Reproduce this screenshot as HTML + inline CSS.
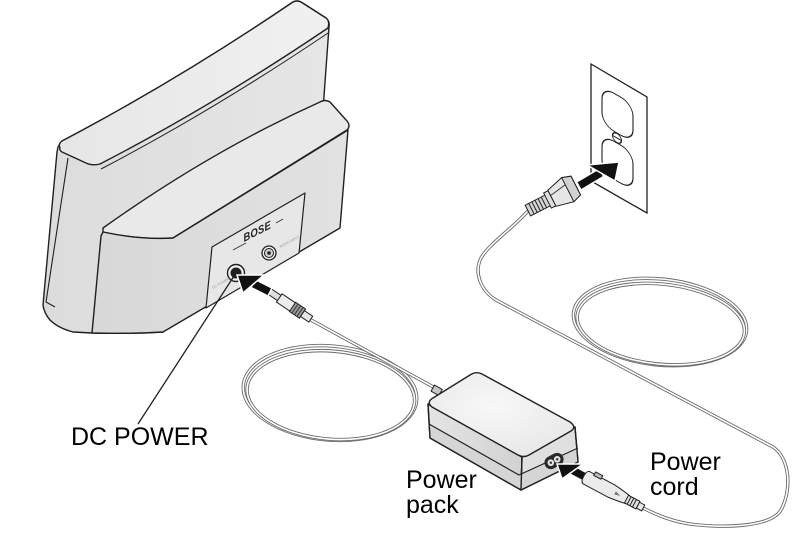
<!DOCTYPE html>
<html><head><meta charset="utf-8"><style>
html,body{margin:0;padding:0;background:#fff;width:812px;height:552px;overflow:hidden;}
svg{display:block;}
text{font-family:"Liberation Sans",Arial,sans-serif;}
</style></head><body>
<svg width="812" height="552" viewBox="0 0 812 552" xmlns="http://www.w3.org/2000/svg">
<defs>
<linearGradient id="lid" x1="0" y1="0" x2="1" y2="0"><stop offset="0" stop-color="#e6e6e6"/><stop offset="1" stop-color="#f1f1f1"/></linearGradient>
<linearGradient id="back" x1="0" y1="0" x2="1" y2="0"><stop offset="0" stop-color="#dcdcdc"/><stop offset="1" stop-color="#e6e6e6"/></linearGradient>
<linearGradient id="basef" x1="0" y1="0" x2="1" y2="0"><stop offset="0" stop-color="#d8d8d8"/><stop offset="1" stop-color="#e2e2e2"/></linearGradient>
<radialGradient id="packtop" cx="0.45" cy="0.4" r="0.7"><stop offset="0" stop-color="#f8f8f8"/><stop offset="1" stop-color="#e6e6e6"/></radialGradient>
<linearGradient id="packside" x1="0" y1="0" x2="1" y2="0"><stop offset="0" stop-color="#e4e4e4"/><stop offset="1" stop-color="#d2d2d2"/></linearGradient>
</defs>

<!-- ===== SPEAKER ===== -->
<g stroke="#231f20" stroke-width="1.4" stroke-linejoin="round">
  <path d="M58,147 L62,141 Q178,80 293,2 Q297,0 301,2 L326,18 Q330,21 329,27 L323,110 L330,200 L163,332 Q130,334 92,333 L73,332 Q58,328 50,320 Q44,313 43,305 L57,152 Z" fill="url(#back)"/>
  <path d="M68,158 L46,302 L55,307" fill="none" stroke-width="1.1"/>
  <path d="M60,148 Q58,144 62,141 Q178,80 293,2 Q297,0 301,2 L326,18 Q330,21 328,28 Q214,105 100,164 Q92,166 86,163 L62,152 Q59,150 60,148 Z" fill="url(#lid)"/>
  <path d="M328,33 Q214,110 101,169" fill="none" stroke-width="1"/>
  <path d="M103,228 Q211,151 320,102 Q325,99 330,102 L347,121 Q351,126 347,130 L173,238 Q140,240 103,232 Z" fill="#e9e9e9"/>
  <path d="M103,232 Q140,240 173,238 L348,130 L340,228 L163,332 Q130,334 92,333 L101,236 Z" fill="url(#basef)"/>
  <path d="M212,247 L305,193 L299,253 L206,308 Z" fill="#e7e7e7" stroke-width="1.2"/>
</g>
<!-- BOSE logo -->
<text transform="translate(244,242) rotate(-27) skewX(-18)" font-size="10.5" font-weight="bold" font-style="italic" fill="#231f20" letter-spacing="0.3">BOSE</text>
<line x1="233" y1="250" x2="246" y2="243" stroke="#333" stroke-width="0.9"/>
<line x1="276" y1="223" x2="283" y2="219" stroke="#333" stroke-width="0.9"/>
<!-- jacks -->
<circle cx="269" cy="253" r="7" fill="#f2f2f2" stroke="#231f20" stroke-width="1.3"/>
<circle cx="269" cy="253" r="4.5" fill="#d0d0d0" stroke="#231f20" stroke-width="1"/>
<circle cx="269" cy="253" r="1.8" fill="#231f20"/>
<text transform="translate(280,248) rotate(-28)" font-size="3.5" fill="#999">AUDIO INPUT</text>
<circle cx="236" cy="273" r="8.5" fill="#f0f0f0" stroke="#231f20" stroke-width="1.4"/>
<circle cx="236" cy="273" r="5.5" fill="#231f20"/>
<text transform="translate(213,289) rotate(-30)" font-size="3.5" fill="#999">DC POWER</text>

<!-- DC leader -->
<line x1="138" y1="424" x2="236" y2="273" stroke="#231f20" stroke-width="1.3"/>

<!-- ===== CABLES ===== -->
<g fill="none" stroke-linecap="round">
  <g transform="rotate(5 330 393)">
    <ellipse cx="330" cy="393" rx="87" ry="47" stroke="#6b6b6b" stroke-width="3.4"/>
    <ellipse cx="330" cy="393" rx="87" ry="47" stroke="#fff" stroke-width="1.6"/>
    <ellipse cx="331" cy="395" rx="84" ry="44" stroke="#6b6b6b" stroke-width="3.4"/>
    <ellipse cx="331" cy="395" rx="84" ry="44" stroke="#fff" stroke-width="1.6"/>
  </g>
  <path d="M311,320 L437,389" stroke="#6b6b6b" stroke-width="3.4"/>
  <path d="M311,320 L437,389" stroke="#fff" stroke-width="1.6"/>
  <g transform="rotate(6 660 322)">
    <ellipse cx="660" cy="322" rx="87" ry="43" stroke="#6b6b6b" stroke-width="3.4"/>
    <ellipse cx="660" cy="322" rx="87" ry="43" stroke="#fff" stroke-width="1.6"/>
    <ellipse cx="661" cy="324" rx="84" ry="40" stroke="#6b6b6b" stroke-width="3.4"/>
    <ellipse cx="661" cy="324" rx="84" ry="40" stroke="#fff" stroke-width="1.6"/>
  </g>
  <path d="M527,212 C515,226 488,245 481,258 C474,272 480,290 496,300 L773,447 C790,458 792,490 781,510 C770,528 720,528 690,524 C670,521 655,514 643,508" stroke="#6b6b6b" stroke-width="3.4"/>
  <path d="M527,212 C515,226 488,245 481,258 C474,272 480,290 496,300 L773,447 C790,458 792,490 781,510 C770,528 720,528 690,524 C670,521 655,514 643,508" stroke="#fff" stroke-width="1.6"/>
</g>

<!-- DC plug -->
<g transform="translate(266,289) rotate(34)" stroke="#231f20" stroke-width="1">
  <rect x="0" y="-3.2" width="17" height="6.4" fill="#dedede"/>
  <rect x="16" y="-5" width="17" height="10" fill="#ececec"/>
  <rect x="32" y="-5.5" width="12" height="11" fill="#9a9a9a"/>
  <line x1="35" y1="-5.5" x2="35" y2="5.5" stroke="#333"/>
  <line x1="38" y1="-5.5" x2="38" y2="5.5" stroke="#333"/>
  <line x1="41" y1="-5.5" x2="41" y2="5.5" stroke="#333"/>
  <rect x="44" y="-3.5" width="10" height="7" fill="#e8e8e8"/>
</g>

<!-- DC arrow -->
<g fill="#111" stroke="#fff" stroke-width="1.5" stroke-linejoin="miter">
  <polygon points="255,279.5 272,288 268,296 251,287.5"/>
  <polygon points="237,275 264,275 243,293"/>
</g>

<!-- ===== POWER PACK ===== -->
<g stroke="#231f20" stroke-width="1.4" stroke-linejoin="round">
  <g transform="translate(438,391) rotate(29)">
    <rect x="-6" y="-3.5" width="9" height="7" fill="#c8c8c8" stroke-width="1"/>
  </g>
  <path d="M428,404 L522,457 L521,490 L430,438 Z" fill="url(#packside)"/>
  <path d="M522,457 L575,427 L578,462 L521,490 Z" fill="#e0e0e0"/>
  <path d="M429,424 L519,475 L578,448 L578,462 L521,490 L430,438 Z" fill="#d5d5d5" stroke="none"/>
  <path d="M428,404 L522,457 L521,490 L430,438 Z M522,457 L575,427 L578,462 L521,490 Z" fill="none"/>
  <path d="M429,424 L519,475 L578,448" fill="none" stroke-width="1.2"/>
  <path d="M433,398 L470,375 Q476,371 482,374 L570,422 Q577,427 571,431 L529,455 Q524,458 518,455 L432,407 Q426,402 433,398 Z" fill="url(#packtop)"/>
</g>
<g transform="translate(554,461) rotate(-28)">
  <rect x="-10" y="-6.5" width="20" height="13" rx="6.5" fill="#2a2a2a"/>
  <circle cx="-3.6" cy="0" r="3.3" fill="#e6e6e6"/>
  <circle cx="3.6" cy="0" r="3.3" fill="#e6e6e6"/>
  <circle cx="-3.6" cy="0" r="1.3" fill="#444"/>
  <circle cx="3.6" cy="0" r="1.3" fill="#444"/>
</g>
<g fill="#111" stroke="#fff" stroke-width="1.5">
  <polygon points="574.2,466 589,474 585,482 569.8,474"/>
  <polygon points="557,464 583,464 562,479"/>
</g>
<!-- C7 plug -->
<g transform="translate(585,477) rotate(28)" stroke="#231f20" stroke-width="1">
  <path d="M2,-7 L30,-7 Q40,-6 48,-4.5 L48,4.5 Q40,6 30,7 L2,7 Q-1.5,7 -1.5,0 Q-1.5,-7 2,-7 Z" fill="#ebebeb"/>
  <rect x="7" y="-9.5" width="8" height="4" fill="#bdbdbd"/>
  <polygon points="34,-1.8 40,0 34,1.8" fill="#777" stroke="none"/>
  <rect x="47" y="-4.3" width="13" height="8.6" fill="#e2e2e2"/>
  <line x1="50" y1="-4.3" x2="50" y2="4.3"/>
  <line x1="53" y1="-4.3" x2="53" y2="4.3"/>
  <line x1="56" y1="-4.3" x2="56" y2="4.3"/>
  <rect x="60" y="-3.3" width="6" height="6.6" fill="#e8e8e8"/>
</g>

<!-- ===== WALL OUTLET ===== -->
<polygon points="591,64 647,97 647,213 591,181" fill="#fff" stroke="#231f20" stroke-width="1.3"/>
<g stroke="#231f20" stroke-width="1.1" fill="none" transform="translate(591,64) skewY(30)">
  <rect x="11" y="16" width="31" height="38" rx="12" ry="12"/>
  <rect x="11" y="64" width="31" height="38" rx="12" ry="12"/>
  <ellipse cx="26" cy="59" rx="4.5" ry="4.5" fill="#fff"/>
  <line x1="22" y1="59" x2="30" y2="59"/>
</g>

<!-- wall plug -->
<g transform="translate(527,211) rotate(-27)" stroke="#231f20" stroke-width="1">
  <rect x="1" y="-6" width="23" height="12" fill="#d4d4d4"/>
  <line x1="5" y1="-6" x2="5" y2="6"/>
  <line x1="8.5" y1="-6" x2="8.5" y2="6"/>
  <line x1="12" y1="-6" x2="12" y2="6"/>
  <line x1="15.5" y1="-6" x2="15.5" y2="6"/>
  <line x1="19" y1="-6" x2="19" y2="6"/>
  <rect x="23" y="-8.5" width="5" height="17" fill="#dedede"/>
  <path d="M28,-9 L46,-14 L55,-11 L55,10 L46,13 L28,9 Z" fill="#e6e6e6"/>
  <path d="M28,-3 L46,-6 L55,-4" fill="none" stroke-width="0.8"/>
  <path d="M46,-14 L55,-11 L55,10 L46,13 Z" fill="#d2d2d2"/>
</g>
<g fill="#111" stroke="#fff" stroke-width="1.5">
  <polygon points="599.3,168.6 603.7,176.4 581,190 576.6,182"/>
  <polygon points="619,162 587,165 615,181"/>
</g>

<!-- ===== LABELS ===== -->
<g font-size="25" fill="#000">
  <text x="71" y="445">DC POWER</text>
  <text x="406" y="488">Power</text>
  <text x="406" y="513">pack</text>
  <text x="650" y="470">Power</text>
  <text x="650" y="495">cord</text>
</g>
</svg>
</body></html>
